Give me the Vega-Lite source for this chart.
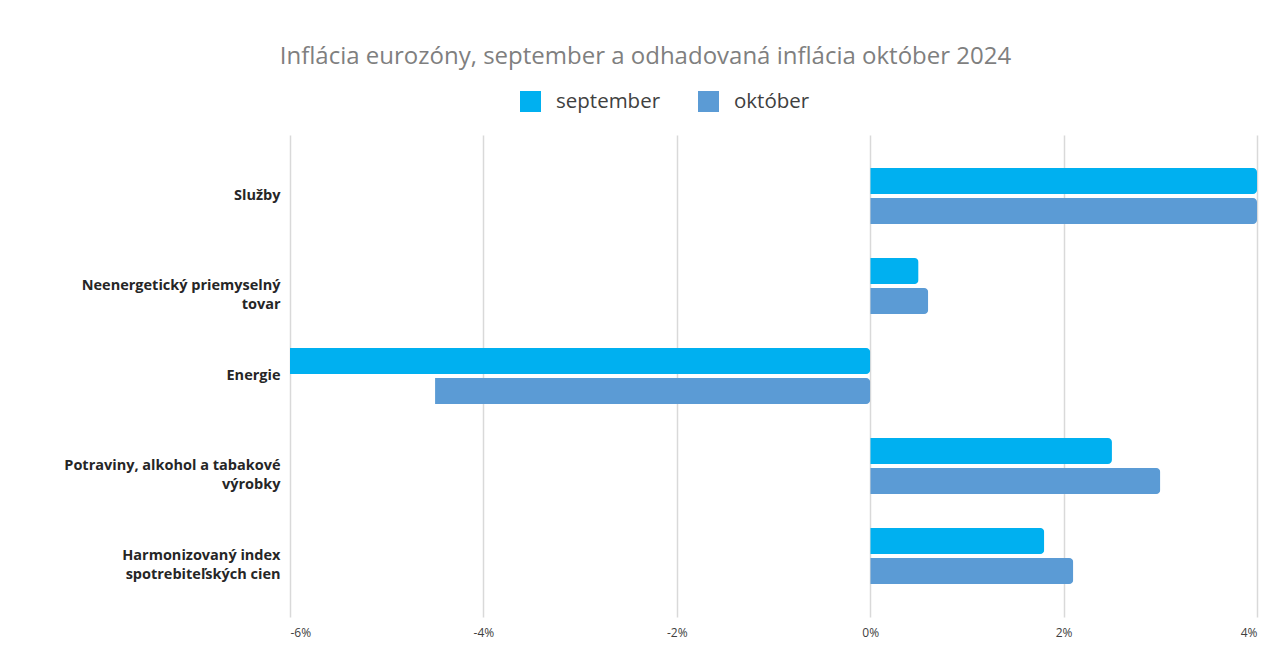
{
  "$schema": "https://vega.github.io/schema/vega-lite/v6.json",
  "autosize": {"type": "none"},
  "width": 967,
  "height": 482,
  "padding": {"left": 290, "top": 135, "right": 9, "bottom": 51},
  "background": "white",
  "title": {
    "text": "Inflácia eurozóny, september a odhadovaná inflácia október 2024",
    "font": "Open Sans",
    "fontSize": 24,
    "fontWeight": "normal",
    "color": "#7f7f7f",
    "anchor": "middle",
    "frame": "group",
    "dx": -128,
    "offset": 22
  },
  "data": {
    "values": [
      {"kategoria": "Služby", "obdobie": "september", "hodnota": 4.0},
      {"kategoria": "Služby", "obdobie": "október", "hodnota": 4.0},
      {"kategoria": "Neenergetický priemyselný tovar", "obdobie": "september", "hodnota": 0.5},
      {"kategoria": "Neenergetický priemyselný tovar", "obdobie": "október", "hodnota": 0.6},
      {"kategoria": "Energie", "obdobie": "september", "hodnota": -6.0},
      {"kategoria": "Energie", "obdobie": "október", "hodnota": -4.5},
      {"kategoria": "Potraviny, alkohol a tabakové výrobky", "obdobie": "september", "hodnota": 2.5},
      {"kategoria": "Potraviny, alkohol a tabakové výrobky", "obdobie": "október", "hodnota": 3.0},
      {"kategoria": "Harmonizovaný index spotrebiteľských cien", "obdobie": "september", "hodnota": 1.8},
      {"kategoria": "Harmonizovaný index spotrebiteľských cien", "obdobie": "október", "hodnota": 2.1}
    ]
  },
  "mark": {"type": "bar", "cornerRadiusEnd": 4},
  "encoding": {
    "y": {
      "field": "kategoria",
      "type": "nominal",
      "sort": null,
      "scale": {"paddingInner": 0.378, "paddingOuter": 0.367},
      "axis": {
        "title": null,
        "ticks": false,
        "domain": false,
        "labelPadding": 10,
        "labelFont": "Open Sans",
        "labelFontSize": 14.5,
        "labelFontWeight": "bold",
        "labelColor": "#262626",
        "labelLimit": 280,
        "labelLineHeight": 19,
        "labelExpr": "datum.label == 'Neenergetický priemyselný tovar' ? ['Neenergetický priemyselný', 'tovar'] : datum.label == 'Potraviny, alkohol a tabakové výrobky' ? ['Potraviny, alkohol a tabakové', 'výrobky'] : datum.label == 'Harmonizovaný index spotrebiteľských cien' ? ['Harmonizovaný index', 'spotrebiteľských cien'] : datum.label"
      }
    },
    "yOffset": {
      "field": "obdobie",
      "type": "nominal",
      "sort": ["september", "október"],
      "scale": {"paddingInner": 0.14}
    },
    "x": {
      "field": "hodnota",
      "type": "quantitative",
      "scale": {"domain": [-6, 4], "nice": false, "zero": true},
      "axis": {
        "title": null,
        "values": [-6, -4, -2, 0, 2, 4],
        "labelExpr": "datum.value + '%'",
        "ticks": false,
        "domain": false,
        "grid": true,
        "gridColor": "#d9d9d9",
        "gridWidth": 1.5,
        "labelPadding": 10,
        "labelFont": "Open Sans",
        "labelFontSize": 12,
        "labelColor": "#404040"
      }
    },
    "color": {
      "field": "obdobie",
      "type": "nominal",
      "sort": ["september", "október"],
      "scale": {"domain": ["september", "október"], "range": ["#00b0f0", "#5b9bd5"]},
      "legend": {
        "title": null,
        "orient": "none",
        "direction": "horizontal",
        "legendX": 230,
        "legendY": -44,
        "symbolType": "square",
        "symbolSize": 441,
        "symbolStrokeWidth": 0,
        "labelFont": "Open Sans",
        "labelFontSize": 20.5,
        "labelColor": "#404040",
        "labelOffset": 15,
        "columnPadding": 37
      }
    }
  },
  "config": {
    "view": {"stroke": null}
  }
}
